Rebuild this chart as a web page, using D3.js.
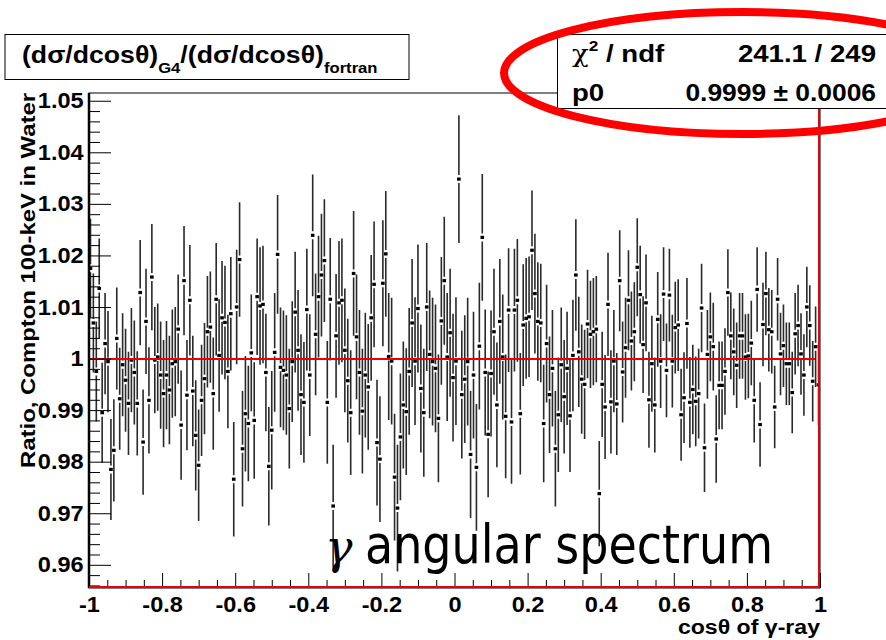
<!DOCTYPE html>
<html>
<head>
<meta charset="utf-8">
<script src="https://cdn.jsdelivr.net/npm/d3@7/dist/d3.min.js"></script>
<style>
  body { margin: 0; background: #fff; }
  svg text { font-family: "Liberation Sans", Arial, Helvetica, sans-serif; font-weight: bold; fill: #000; }
</style>
</head>
<body>
<svg id="chart"></svg>
<script>

let width = 886, height = 640;
let frameLeft = 89, frameRight = 820, frameTop = 93, frameBottom = 588;

// axis labels
const xTickLabels = ["-1", "-0.8", "-0.6", "-0.4", "-0.2", "0", "0.2", "0.4", "0.6", "0.8", "1"];
const yTickLabels = ["0.96", "0.97", "0.98", "0.99", "1", "1.01", "1.02", "1.03", "1.04", "1.05"];
const xTitle = "cosθ of γ-ray";
const yTitle = "Ratio, Compton 100-keV in Water";

// histogram range, 250 bins
const binLow = -1, binHigh = 1;

// bin contents
const ratio = [
  1.0175, 1.0069, 0.9975, 1.0136, 0.9895, 1.0029, 0.9994, 0.9785, 0.9822, 1.0039,
  0.9922, 0.9988, 0.9958, 0.9913, 0.9997, 0.9973, 0.9913, 1.0128, 0.9838, 1.0072,
  0.9919, 1.0158, 0.9997, 1.0003, 0.9968, 0.9932, 0.9968, 0.9939, 0.9990, 0.9994,
  1.0057, 0.9871, 1.0151, 0.9929, 1.0113, 0.9937, 0.9851, 0.9793, 0.9919, 0.9961,
  1.0052, 1.0061, 0.9932, 1.0115, 1.0006, 1.0079, 1.0070, 0.9975, 1.0087, 0.9766,
  1.0100, 1.0192, 0.9825, 0.9893, 0.9874, 1.0011, 0.9880, 1.0120, 1.0102, 1.0105,
  0.9973, 0.9791, 0.9861, 1.0012, 1.0202, 0.9983, 0.9977, 0.9968, 0.9903, 0.9994,
  1.0090, 1.0016, 0.9930, 0.9915, 1.0095, 0.9968, 1.0239, 1.0047, 1.0120, 1.0162,
  1.0190, 0.9915, 1.0115, 0.9714, 1.0044, 1.0108, 1.0113, 1.0016, 0.9957, 0.9895,
  1.0165, 1.0042, 0.9973, 0.9898, 0.9968, 0.9945, 1.0079, 1.0144, 0.9837, 0.9805,
  1.0146, 1.0203, 1.0004, 0.9995, 0.9770, 0.9710, 0.9848, 0.9910, 0.9897, 0.9975,
  1.0069, 0.9995, 1.0097, 0.9942, 0.9895, 1.0100, 1.0008, 0.9994, 0.9981, 0.9884,
  1.0073, 1.0151, 1.0003, 1.0050, 0.9963, 0.9995, 1.0348, 0.9930, 0.9960, 0.9994,
  0.9814, 0.9968, 0.9789, 1.0024, 1.0235, 0.9973, 0.9853, 0.9971, 1.0052, 0.9910,
  1.0072, 1.0003, 0.9888, 1.0094, 0.9877, 1.0094, 1.0113, 0.9893, 1.0065, 1.0078,
  1.0081, 1.0210, 1.0126, 1.0072, 1.0069, 0.9874, 1.0029, 0.9930, 0.9981, 0.9825,
  0.9891, 0.9988, 0.9926, 0.9981, 0.9889, 1.0006, 1.0162, 1.0013, 0.9960, 0.9950,
  1.0067, 1.0047, 1.0052, 1.0057, 0.9738, 0.9950, 0.9906, 1.0105, 0.9916, 0.9995,
  0.9912, 1.0151, 0.9974, 1.0021, 1.0113, 1.0034, 1.0052, 1.0177, 1.0124, 1.0027,
  1.0108, 0.9920, 0.9990, 0.9910, 1.0076, 0.9995, 1.0125, 0.9977, 1.0123, 0.9995,
  1.0060, 1.0065, 0.9891, 0.9924, 1.0068, 0.9915, 0.9940, 0.9917, 0.9932, 1.0098,
  0.9827, 1.0008, 1.0042, 1.0023, 0.9844, 0.9948, 0.9948, 0.9975, 1.0128, 1.0044,
  1.0013, 0.9987, 1.0044, 1.0044, 1.0003, 1.0005, 1.0030, 0.9919, 1.0134, 0.9872,
  1.0066, 1.0126, 1.0056, 1.0052, 0.9906, 1.0115, 1.0009, 1.0025, 0.9990, 0.9990,
  0.9934, 1.0048, 1.0064, 1.0009, 0.9968, 1.0100, 1.0064, 0.9956, 1.0023, 0.9949
];

// bin errors, units of 1e-4
const errE4 = [
   96,  96,  97,  97,  97,  98,  98,  98,  99,  99,
   99, 100, 100, 100, 101, 101, 101, 102, 102, 102,
  103, 103, 103, 104, 104, 104, 105, 105, 105, 106,
  106, 106, 106, 107, 107, 107, 107, 108, 108, 108,
  108, 108, 109, 109, 109, 110, 110, 110, 110, 111,
  111, 111, 112, 112, 112, 113, 113, 113, 114, 114,
  114, 115, 115, 115, 115, 116, 116, 116, 116, 117,
  117, 117, 117, 117, 118, 118, 118, 118, 118, 119,
  119, 119, 119, 119, 120, 120, 120, 120, 120, 121,
  121, 121, 121, 121, 121, 122, 122, 122, 122, 122,
  122, 122, 123, 123, 123, 123, 123, 123, 123, 123,
  124, 124, 124, 124, 124, 124, 124, 124, 124, 124,
  124, 124, 124, 124, 124, 124, 124, 124, 124, 124,
  123, 123, 123, 123, 123, 122, 122, 122, 122, 121,
  121, 121, 120, 120, 120, 119, 119, 118, 118, 117,
  117, 116, 116, 115, 115, 114, 114, 113, 113, 112,
  111, 111, 110, 110, 109, 108, 108, 107, 106, 106,
  105, 104, 104, 103, 102, 102, 101, 100, 100,  99,
   99,  98,  98,  97,  97,  96,  96,  95,  95,  94,
   94,  93,  93,  92,  92,  91,  91,  91,  90,  90,
   89,  89,  89,  88,  88,  88,  87,  87,  87,  86,
   86,  86,  86,  85,  85,  85,  85,  84,  84,  84,
   84,  83,  83,  83,  83,  82,  82,  82,  82,  82,
   81,  81,  81,  81,  80,  80,  80,  80,  80,  80,
   79,  79,  79,  79,  79,  78,  78,  78,  78,  78
];

// pol0 fit
const fitP0 = 0.9999;
const statLabels = ["χ", "p0"];
const statValues = ["241.1 / 249", "0.9999 ± 0.0006"];
const noteText = "angular spectrum";

let svg = d3.select("#chart")
  .attr("width", width)
  .attr("height", height)
  .attr("viewBox", [0, 0, width, height]);

svg.append("rect")
  .attr("width", width)
  .attr("height", height)
  .attr("fill", "white");

let x = d3.scaleLinear().domain([binLow, binHigh]).range([frameLeft, frameRight]);
let y = d3.scaleLinear().domain([0.9555, 1.0515]).range([frameBottom, frameTop]);

let binWidth = (binHigh - binLow) / ratio.length;

svg.append("clipPath").attr("id", "frameClip")
  .append("rect")
  .attr("x", frameLeft)
  .attr("y", frameTop)
  .attr("width", frameRight - frameLeft)
  .attr("height", frameBottom - frameTop);

let bins = ratio.map((v, i) => ({
  cx: binLow + (i + 0.5) * binWidth,
  v: v,
  e: errE4[i] / 10000
}));

let plot = svg.append("g").attr("clip-path", "url(#frameClip)");

// error bars, with a gap around the marker as ROOT draws them
let gap = 4;
plot.append("g")
  .attr("stroke", "#2a2a2a")
  .attr("stroke-width", 1.6)
  .selectAll("path")
  .data(bins)
  .join("path")
  .attr("d", d => {
    let px = x(d.cx), py = y(d.v);
    return "M" + px + "," + y(d.v + d.e) + "V" + (py - gap) +
           "M" + px + "," + (py + gap) + "V" + y(d.v - d.e);
  });

plot.append("g")
  .selectAll("rect")
  .data(bins)
  .join("rect")
  .attr("x", d => x(d.cx) - 1.8)
  .attr("y", d => y(d.v) - 1.6)
  .attr("width", 3.6)
  .attr("height", 3.2)
  .attr("fill", "#000");

// fit line
svg.append("path")
  .attr("d", "M" + x(binLow) + "," + y(fitP0) + "H" + (x(binHigh) - 5))
  .attr("stroke", "#e8000b")
  .attr("stroke-width", 2)
  .attr("fill", "none");

// ticks: ROOT style, inside the frame
let yMajor = yTickLabels.map(Number);
let yMinor = d3.range(0.956, 1.0512, 0.002).filter(t => !yMajor.some(m => Math.abs(m - t) < 1e-6));
let xMajor = xTickLabels.map(Number);
let xMinor = d3.range(-0.95, 1, 0.05).filter(t => !xMajor.some(m => Math.abs(m - t) < 1e-6));

let yAxisG = svg.append("g").attr("transform", `translate(${frameLeft},0)`);
yAxisG.call(d3.axisLeft(y).tickValues(yMajor).tickSize(-22).tickPadding(5)
  .tickFormat((d, i) => yTickLabels[i]));
yAxisG.append("g").call(d3.axisLeft(y).tickValues(yMinor).tickSize(-11).tickFormat(""));

let xAxisG = svg.append("g").attr("transform", `translate(0,${frameBottom})`);
xAxisG.call(d3.axisBottom(x).tickValues(xMajor).tickSize(-15).tickPadding(8)
  .tickFormat((d, i) => xTickLabels[i]));
xAxisG.append("g").call(d3.axisBottom(x).tickValues(xMinor).tickSize(-8).tickFormat(""));

svg.selectAll(".domain").remove();
svg.selectAll(".tick line").attr("stroke", "#000").attr("stroke-width", 1);
svg.selectAll(".tick text")
  .attr("font-size", 22)
  .attr("transform", "scale(1.07,1)");

// frame
svg.append("rect")
  .attr("x", frameLeft)
  .attr("y", frameTop)
  .attr("width", frameRight - frameLeft)
  .attr("height", frameBottom - frameTop)
  .attr("fill", "none")
  .attr("stroke", "#000")
  .attr("stroke-width", 1);
svg.append("line")
  .attr("x1", frameLeft).attr("x2", frameLeft)
  .attr("y1", frameTop).attr("y2", frameBottom)
  .attr("stroke", "#000").attr("stroke-width", 2.5);

// red edges from the fit drawing
svg.append("path")
  .attr("d", `M${frameLeft},${frameBottom - 1}H${frameRight - 1}V${frameTop + 16}`)
  .attr("stroke", "#e8000b")
  .attr("stroke-width", 2)
  .attr("fill", "none");

// axis titles
svg.append("text")
  .attr("transform", `translate(${frameRight},634) scale(1.1,1)`)
  .attr("text-anchor", "end")
  .attr("font-size", 21)
  .text(xTitle);

svg.append("text")
  .attr("transform", `translate(35,${frameTop}) rotate(-90)`)
  .attr("text-anchor", "end")
  .attr("font-size", 20)
  .attr("textLength", 375)
  .attr("lengthAdjust", "spacingAndGlyphs")
  .text(yTitle);

// annotation
svg.append("text")
  .attr("x", 325)
  .attr("y", 563)
  .style("font-family", "'DejaVu Serif', 'Liberation Serif', serif")
  .style("font-style", "italic")
  .style("font-weight", "normal")
  .attr("font-size", 46)
  .text("γ");
svg.append("text")
  .attr("x", 365)
  .attr("y", 563)
  .style("font-family", "'DejaVu Sans', sans-serif")
  .style("font-weight", "normal")
  .attr("font-size", 54)
  .attr("textLength", 408)
  .attr("lengthAdjust", "spacingAndGlyphs")
  .text(noteText);

// title box
svg.append("rect")
  .attr("x", 5).attr("y", 34.5)
  .attr("width", 404).attr("height", 45)
  .attr("fill", "white").attr("stroke", "#000").attr("stroke-width", 1);

let title = svg.append("text")
  .attr("transform", "translate(22,63) scale(1.11,1)")
  .attr("font-size", 24);
title.append("tspan").text("(dσ/dcosθ)");
title.append("tspan").attr("font-size", 15).attr("dy", 10).text("G4");
title.append("tspan").attr("dy", -10).text("/(dσ/dcosθ)");
title.append("tspan").attr("font-size", 15).attr("dy", 10).text("fortran");

// stats box
svg.append("rect")
  .attr("x", 557.5).attr("y", 34.5)
  .attr("width", 340).attr("height", 74)
  .attr("fill", "white").attr("stroke", "#000").attr("stroke-width", 1);

let chi = svg.append("text")
  .attr("transform", "translate(572,62) scale(1.15,1)")
  .attr("font-size", 24);
chi.append("tspan")
  .style("font-family", "'DejaVu Serif', 'Liberation Serif', serif")
  .style("font-weight", "normal")
  .text(statLabels[0]);
chi.append("tspan").attr("font-size", 15).attr("dy", -11).text("2");
chi.append("tspan").attr("dy", 11).text(" / ndf");

svg.append("text")
  .attr("transform", "translate(572,101) scale(1.15,1)")
  .attr("font-size", 24)
  .text(statLabels[1]);

statValues.forEach((s, i) => {
  svg.append("text")
    .attr("transform", `translate(876,${i ? 101 : 62}) scale(${i ? 1.1 : 1.15},1)`)
    .attr("text-anchor", "end")
    .attr("font-size", 24)
    .text(s);
});

// hand drawn red ellipse around the fit result
svg.append("ellipse")
  .attr("cx", 742).attr("cy", 73)
  .attr("rx", 238).attr("ry", 61)
  .attr("fill", "none")
  .attr("stroke", "#f00")
  .attr("stroke-width", 8);

</script>
</body>
</html>
